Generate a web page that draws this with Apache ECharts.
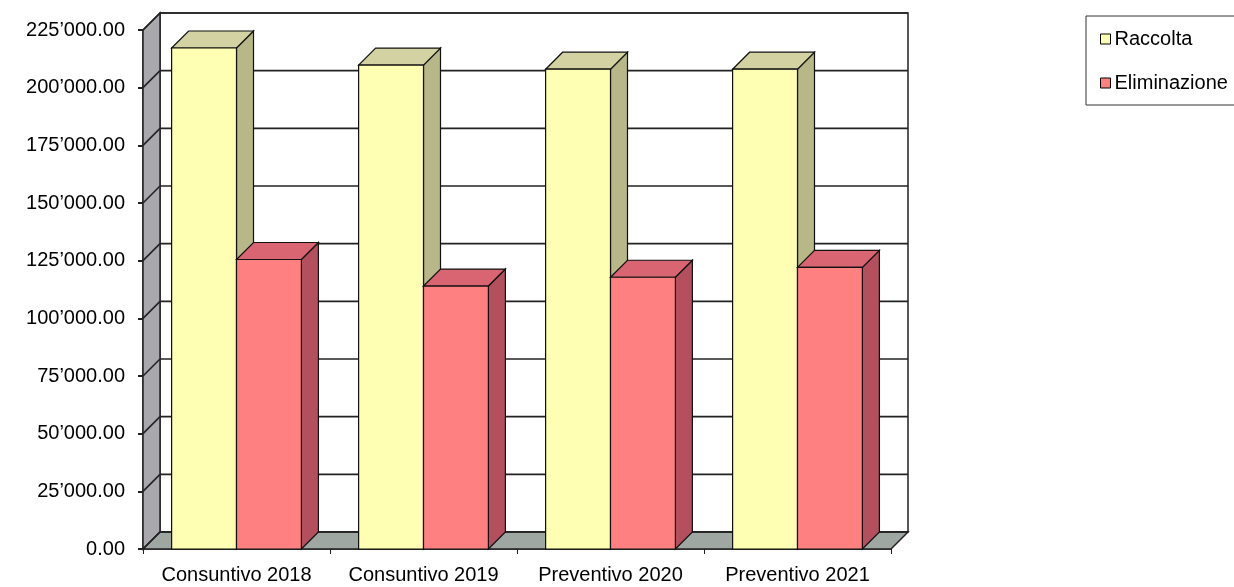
<!DOCTYPE html>
<html>
<head>
    <meta charset="utf-8" />
    <script src="https://cdn.jsdelivr.net/npm/echarts@6/dist/echarts.min.js"></script>
</head>
<body style="margin:0;background:#fff">
    <div id="main" style="width:1234px;height:587px;"></div>
    <script type="text/javascript">
        // dati
        var categories = ['Consuntivo 2018', 'Consuntivo 2019', 'Preventivo 2020', 'Preventivo 2021'];
        var raccolta = [217200, 209800, 208000, 208000];
        var eliminazione = [125500, 114000, 117800, 122100];
        var yTicks = [0, 25000, 50000, 75000, 100000, 125000, 150000, 175000, 200000, 225000];

        // profondità finta 3D
        var DX = 17, DY = -17;
        var BAR_RATIO = 0.347;
        var LINE = '#222';

        function fmt(v) {
            var s = v.toFixed(2).split('.');
            return s[0].replace(/\B(?=(\d{3})+(?!\d))/g, '\u2019') + '.' + s[1];
        }

        // pareti, pavimento e linee di griglia
        function wallItem(params, api) {
            var cs = params.coordSys;
            var y = api.coord([0, api.value(1)])[1];
            var x0 = cs.x, x1 = cs.x + cs.width;
            var yt = cs.y, yb = cs.y + cs.height;
            var children = [];
            if (params.dataIndex === 0) {
                children.push({
                    type: 'rect',
                    shape: { x: x0 + DX, y: yt + DY, width: x1 - x0, height: yb - yt },
                    style: { fill: '#fff', stroke: LINE, lineWidth: 1.5 }
                });
                children.push({
                    type: 'polygon',
                    shape: { points: [[x0, yt], [x0 + DX, yt + DY], [x0 + DX, yb + DY], [x0, yb]] },
                    style: { fill: '#a9a9ad', stroke: LINE, lineWidth: 1.5 }
                });
                children.push({
                    type: 'polygon',
                    shape: { points: [[x0, yb], [x0 + DX, yb + DY], [x1 + DX, yb + DY], [x1, yb]] },
                    style: { fill: '#9fa7a2', stroke: LINE, lineWidth: 1.5 }
                });
            }
            children.push({
                type: 'line',
                shape: { x1: x0 + DX, y1: y + DY, x2: x1 + DX, y2: y + DY },
                style: { stroke: LINE, lineWidth: 1.6 }
            });
            children.push({
                type: 'line',
                shape: { x1: x0, y1: y, x2: x0 + DX, y2: y + DY },
                style: { stroke: LINE, lineWidth: 1.6 }
            });
            return { type: 'group', children: children };
        }

        function barItem(side, c) {
            return function (params, api) {
                var i = api.value(0), v = api.value(1);
                var base = api.coord([i, 0]);
                var top = api.coord([i, v]);
                var bw = api.size([1, 0])[0] * BAR_RATIO;
                var x0 = side === 0 ? base[0] - bw : base[0];
                var x1 = x0 + bw;
                var yt = top[1], yb = base[1];
                var st = { stroke: '#111', lineWidth: 1.2 };
                return {
                    type: 'group',
                    children: [
                        {
                            type: 'polygon',
                            shape: { points: [[x1, yt], [x1 + DX, yt + DY], [x1 + DX, yb + DY], [x1, yb]] },
                            style: Object.assign({ fill: c.side }, st)
                        },
                        {
                            type: 'polygon',
                            shape: { points: [[x0, yt], [x0 + DX, yt + DY], [x1 + DX, yt + DY], [x1, yt]] },
                            style: Object.assign({ fill: c.top }, st)
                        },
                        {
                            type: 'rect',
                            shape: { x: x0, y: yt, width: bw, height: yb - yt },
                            style: Object.assign({ fill: c.front }, st)
                        }
                    ]
                };
            };
        }

        var yellow = { front: '#ffffb3', side: '#b7b788', top: '#d2d2a2' };
        var red = { front: '#ff8080', side: '#b4505d', top: '#d96472' };

        var myChart = echarts.init(document.getElementById('main'));

        var option = {
            animation: false,
            textStyle: { fontFamily: 'Liberation Sans, Arial, sans-serif' },
            grid: { left: 143, right: 343, top: 30, bottom: 38 },
            legend: {
                orient: 'vertical',
                left: 1086,
                top: 16,
                padding: [13, 40, 12, 14],
                itemGap: 24,
                itemWidth: 10,
                itemHeight: 10,
                icon: 'rect',
                borderColor: '#333',
                borderWidth: 1,
                itemStyle: { borderColor: '#000', borderWidth: 1 },
                textStyle: { fontSize: 20, color: '#000', padding: [0, 0, 0, -1] },
                data: ['Raccolta', 'Eliminazione']
            },
            xAxis: {
                type: 'category',
                data: categories,
                axisLine: { show: true, lineStyle: { color: LINE, width: 1.5 } },
                axisTick: { show: true, interval: 0, length: 5, lineStyle: { color: LINE } },
                axisLabel: { interval: 0, fontSize: 20, color: '#000', margin: 16 }
            },
            yAxis: {
                type: 'value',
                min: 0,
                max: 225000,
                interval: 25000,
                axisLine: { show: true, lineStyle: { color: LINE, width: 1.5 } },
                axisTick: { show: true, length: 5, lineStyle: { color: LINE, width: 2 } },
                axisLabel: { fontSize: 20, color: '#000', margin: 18, formatter: fmt },
                splitLine: { show: false }
            },
            series: [
                {
                    name: 'pareti',
                    type: 'custom',
                    z: 1,
                    silent: true,
                    renderItem: wallItem,
                    encode: { x: 0, y: 1 },
                    data: yTicks.map(function (v) { return [0, v]; })
                },
                {
                    name: 'Raccolta',
                    type: 'custom',
                    z: 3,
                    itemStyle: { color: yellow.front },
                    renderItem: barItem(0, yellow),
                    encode: { x: 0, y: 1 },
                    data: raccolta.map(function (v, i) { return [i, v]; })
                },
                {
                    name: 'Eliminazione',
                    type: 'custom',
                    z: 4,
                    itemStyle: { color: red.front },
                    renderItem: barItem(1, red),
                    encode: { x: 0, y: 1 },
                    data: eliminazione.map(function (v, i) { return [i, v]; })
                }
            ]
        };

        myChart.setOption(option);
    </script>
</body>
</html>
